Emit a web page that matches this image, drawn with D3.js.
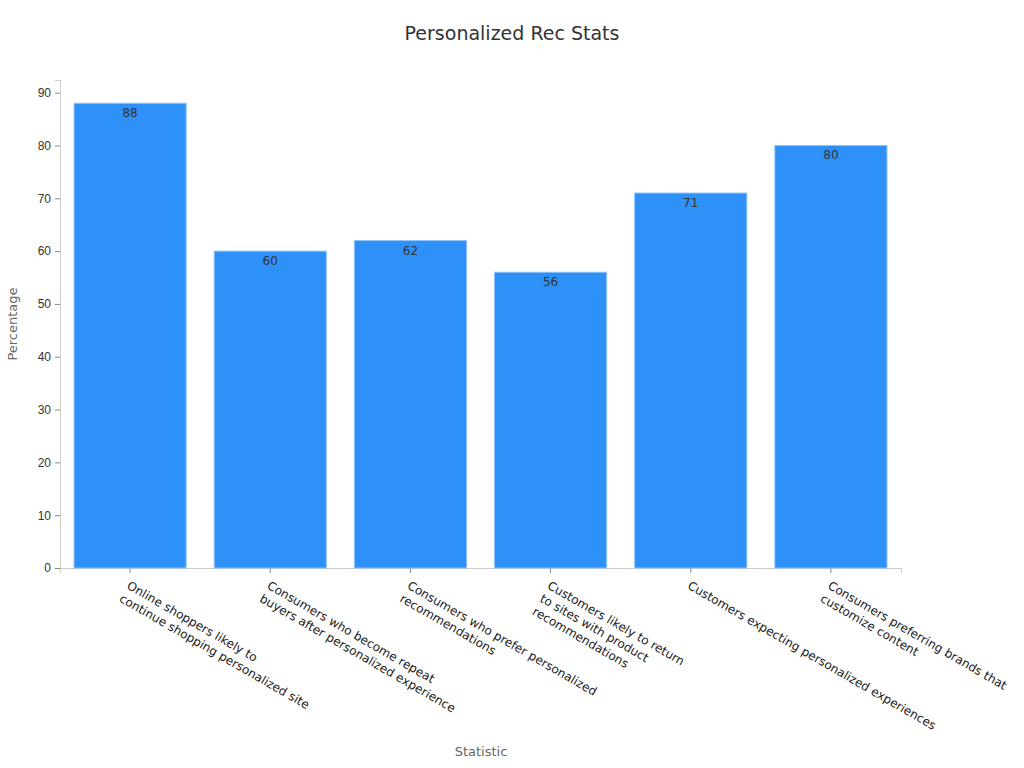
<!DOCTYPE html>
<html><head><meta charset="utf-8">
<script src="https://cdn.jsdelivr.net/npm/d3@7"></script>
<style>body{margin:0;background:#fff;font-family:"DejaVu Sans",sans-serif}</style>
</head><body><div id="chart"></div>
<script>
// chart values
const categories = [
  ["Online shoppers likely to", "continue shopping personalized site"],
  ["Consumers who become repeat", "buyers after personalized experience"],
  ["Consumers who prefer personalized", "recommendations"],
  ["Customers likely to return", "to sites with product", "recommendations"],
  ["Customers expecting personalized experiences"],
  ["Consumers preferring brands that", "customize content"]
];
const values = [88, 60, 62, 56, 71, 80];
const yTicks = [0, 10, 20, 30, 40, 50, 60, 70, 80, 90];

const W = 1024, H = 768;
const margin = {top: 80, right: 123, bottom: 200, left: 60};

const svg = d3.select("#chart").append("svg").attr("width", W).attr("height", H);

svg.append("text").attr("x", 512).attr("y", 40).attr("text-anchor", "middle")
  .style("font-size", "19px").attr("fill", "#333").text("Personalized Rec Stats");

const x = d3.scaleBand().domain(d3.range(values.length))
  .range([margin.left, W - margin.right]).paddingInner(0.2).paddingOuter(0.1);
const y = d3.scaleLinear().domain([0, 92.4]).range([H - margin.bottom, margin.top]);

// axes
const yAxis = svg.append("g").attr("transform", `translate(${margin.left},0)`)
  .call(d3.axisLeft(y).tickValues(yTicks).tickSize(5).tickPadding(4));
yAxis.select(".domain").attr("stroke", "#ccc");
yAxis.selectAll(".tick line").attr("stroke", "#888");
yAxis.selectAll("text").style("font-size", "12px").attr("fill", "#333");

const xAxis = svg.append("g").attr("transform", `translate(0,${H - margin.bottom})`)
  .call(d3.axisBottom(x).tickSize(5).tickFormat(""));
xAxis.select(".domain").attr("stroke", "#ccc");
xAxis.selectAll(".tick line").attr("stroke", "#888");

// bars
svg.selectAll(".bar").data(values).enter().append("rect")
  .attr("class", "bar")
  .attr("x", (d, i) => x(i)).attr("width", x.bandwidth())
  .attr("y", d => y(d)).attr("height", d => y(0) - y(d))
  .attr("fill", "#2e91f8").attr("stroke", "#8fc3fb").attr("stroke-width", 1);

svg.selectAll(".val").data(values).enter().append("text")
  .attr("x", (d, i) => x(i) + x.bandwidth() / 2).attr("y", d => y(d) + 14)
  .attr("text-anchor", "middle").style("font-size", "12px").attr("fill", "#333")
  .text(d => d);

// rotated category labels
categories.forEach((lines, i) => {
  const cx = x(i) + x.bandwidth() / 2;
  const t = svg.append("text")
    .attr("transform", `translate(${cx - 4},${H - margin.bottom + 20}) rotate(30)`)
    .style("font-size", "12px").attr("fill", "#222");
  lines.forEach((l, j) => t.append("tspan").attr("x", 0).attr("dy", j ? 15 : 0).text(l));
});

svg.append("text").attr("x", 481).attr("y", 756).attr("text-anchor", "middle")
  .style("font-size", "13px").attr("fill", "#666").text("Statistic");
svg.append("text").attr("transform", `translate(17,324) rotate(-90)`)
  .attr("text-anchor", "middle").style("font-size", "13px").attr("fill", "#666").text("Percentage");
</script></body></html>
